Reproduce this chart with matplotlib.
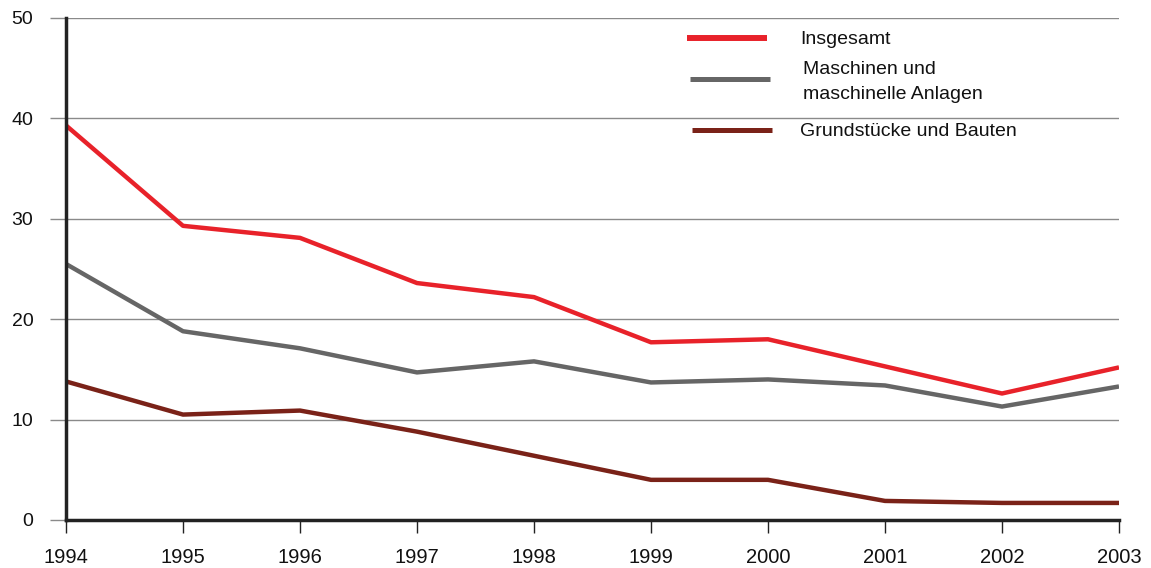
import matplotlib
matplotlib.use("Agg")
import matplotlib.pyplot as plt
from matplotlib.lines import Line2D

plt.rcParams['font.family'] = ['Liberation Sans', 'DejaVu Sans']

years = [1994, 1995, 1996, 1997, 1998, 1999, 2000, 2001, 2002, 2003]
insgesamt = [39.3, 29.3, 28.1, 23.6, 22.2, 17.7, 18.0, 15.3, 12.6, 15.2]
maschinen = [25.5, 18.8, 17.1, 14.7, 15.8, 13.7, 14.0, 13.4, 11.3, 13.3]
grund = [13.8, 10.5, 10.9, 8.8, 6.4, 4.0, 4.0, 1.9, 1.7, 1.7]
labels = ["Insgesamt", "Maschinen und\nmaschinelle Anlagen", "Grundstücke und Bauten"]
colors = ["#E8222A", "#666666", "#7A2218"]
yticks = [0, 10, 20, 30, 40, 50]

W, H = 1151, 568
fig = plt.figure(figsize=(W/100, H/100), dpi=100)
ax = fig.add_axes([66/W, 1-520/H, (1119-66)/W, (520-18)/H])

for yv in yticks[1:]:
    ax.axhline(yv, color="#8a8a8a", lw=1.0, zorder=1)

for vals, c in zip([insgesamt, maschinen, grund], colors):
    ax.plot(years, vals, color=c, lw=3.2, zorder=3, solid_capstyle='butt')

ax.set_xlim(1994, 2003)
ax.set_ylim(0, 50)
ax.set_xticks(years)
ax.set_xticklabels([str(y) for y in years], fontsize=14.5, color='#111111')
ax.set_yticks(yticks)
ax.set_yticklabels([str(y) for y in yticks], fontsize=14, color='#111111')
ax.tick_params(axis='x', length=9.5, width=1, color='#222222', pad=10.5, direction='out')
ax.tick_params(axis='y', length=11.5, width=1, color='#8a8a8a', pad=12)
for s in ['top', 'right']:
    ax.spines[s].set_visible(False)
for s in ['left', 'bottom']:
    ax.spines[s].set_linewidth(2.5)
    ax.spines[s].set_color('#222222')
    ax.spines[s].set_zorder(4)

# manual legend
leg_lines = [((687, 767), 38, 4.3), ((690, 770), 79, 3.6), ((692, 772), 130, 3.6)]
text_pos = [(800, [40]), (803, [70, 95]), (800, [132])]
for (xr, yl, lw), (tx, tys), lab, c in zip(leg_lines, text_pos, labels, colors):
    fig.add_artist(Line2D([xr[0]/W, xr[1]/W], [1-yl/H, 1-yl/H], color=c, lw=lw, solid_capstyle='butt'))
    for line, ty in zip(lab.split("\n"), tys):
        fig.text(tx/W, 1-ty/H, line, fontsize=14, va='center', ha='left', color='#111111')

fig.savefig("out.png", dpi=100)
